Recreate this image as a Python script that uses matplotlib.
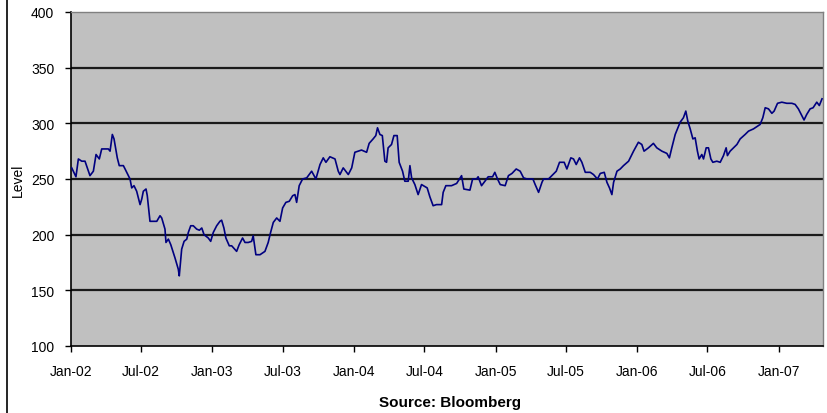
import datetime as dt
import numpy as np
import matplotlib
matplotlib.use("Agg")
import matplotlib.pyplot as plt
import matplotlib.dates as mdates
from matplotlib.lines import Line2D

plt.rcParams['font.family'] = ['Liberation Sans', 'DejaVu Sans']

# decimal years and index level
years = [
    2002.005, 2002.035, 2002.052, 2002.076, 2002.099, 2002.134, 2002.158, 2002.177,
    2002.200, 2002.217, 2002.264, 2002.276, 2002.292, 2002.304, 2002.327, 2002.341,
    2002.370, 2002.382, 2002.417, 2002.429, 2002.445, 2002.464, 2002.488, 2002.500,
    2002.511, 2002.530, 2002.539, 2002.558, 2002.606, 2002.629, 2002.641, 2002.664,
    2002.671, 2002.688, 2002.705, 2002.735, 2002.758, 2002.765, 2002.782, 2002.799,
    2002.818, 2002.829, 2002.846, 2002.864, 2002.888, 2002.907, 2002.924, 2002.940,
    2002.970, 2002.987, 2003.006, 2003.030, 2003.053, 2003.065, 2003.081, 2003.095,
    2003.119, 2003.136, 2003.171, 2003.189, 2003.213, 2003.230, 2003.253, 2003.277,
    2003.288, 2003.307, 2003.336, 2003.371, 2003.394, 2003.411, 2003.430, 2003.454,
    2003.477, 2003.496, 2003.519, 2003.543, 2003.567, 2003.583, 2003.595, 2003.613,
    2003.637, 2003.666, 2003.701, 2003.731, 2003.760, 2003.783, 2003.802, 2003.830,
    2003.866, 2003.889, 2003.901, 2003.924, 2003.960, 2003.984, 2004.007, 2004.054,
    2004.090, 2004.108, 2004.136, 2004.155, 2004.167, 2004.184, 2004.201, 2004.219,
    2004.231, 2004.242, 2004.266, 2004.283, 2004.306, 2004.320, 2004.344, 2004.360,
    2004.384, 2004.396, 2004.408, 2004.431, 2004.454, 2004.478, 2004.518, 2004.537,
    2004.560, 2004.584, 2004.620, 2004.631, 2004.650, 2004.690, 2004.726, 2004.761,
    2004.777, 2004.820, 2004.839, 2004.867, 2004.878, 2004.902, 2004.926, 2004.949,
    2004.980, 2004.996, 2005.013, 2005.032, 2005.067, 2005.090, 2005.115, 2005.145,
    2005.173, 2005.197, 2005.221, 2005.263, 2005.279, 2005.303, 2005.327, 2005.338,
    2005.373, 2005.397, 2005.428, 2005.451, 2005.484, 2005.503, 2005.531, 2005.550,
    2005.569, 2005.592, 2005.609, 2005.633, 2005.668, 2005.691, 2005.719, 2005.739,
    2005.767, 2005.786, 2005.804, 2005.821, 2005.833, 2005.857, 2005.880, 2005.903,
    2005.939, 2005.974, 2006.009, 2006.033, 2006.049, 2006.080, 2006.115, 2006.139,
    2006.175, 2006.210, 2006.228, 2006.245, 2006.269, 2006.304, 2006.327, 2006.344,
    2006.358, 2006.375, 2006.394, 2006.410, 2006.426, 2006.438, 2006.457, 2006.469,
    2006.488, 2006.504, 2006.521, 2006.535, 2006.563, 2006.587, 2006.610, 2006.629,
    2006.638, 2006.657, 2006.681, 2006.705, 2006.728, 2006.763, 2006.787, 2006.822,
    2006.846, 2006.869, 2006.888, 2006.905, 2006.928, 2006.952, 2006.968, 2006.992,
    2007.023, 2007.058, 2007.094, 2007.117, 2007.140, 2007.164, 2007.180, 2007.199,
    2007.223, 2007.244, 2007.270, 2007.288, 2007.307,
]
level = [
    260, 252, 268, 266, 266, 253, 257, 272,
    268, 277, 277, 275, 290, 286, 269, 262,
    262, 259, 250, 242, 244, 239, 227, 232,
    239, 241, 235, 212, 212, 217, 215, 205,
    193, 196, 191, 179, 169, 163, 187, 194,
    196, 202, 208, 208, 205, 204, 206, 200,
    197, 194, 202, 208, 212, 213, 206, 197,
    190, 190, 185, 191, 197, 193, 193, 194,
    199, 182, 182, 185, 193, 202, 211, 215,
    212, 224, 229, 230, 235, 236, 229, 244,
    250, 251, 257, 250, 263, 269, 265, 270,
    268, 257, 254, 260, 254, 260, 274, 276,
    274, 282, 286, 289, 296, 290, 289, 266,
    265, 278, 281, 289, 289, 265, 257, 248,
    248, 262, 251, 245, 236, 245, 242, 234,
    226, 227, 227, 238, 244, 244, 246, 253,
    241, 240, 250, 250, 252, 244, 248, 252,
    252, 256, 250, 245, 244, 253, 255, 259,
    257, 251, 250, 250, 245, 238, 247, 250,
    250, 253, 257, 265, 265, 259, 269, 268,
    263, 269, 265, 256, 256, 254, 250, 255,
    256, 247, 242, 236, 247, 257, 259, 262,
    266, 275, 283, 281, 275, 278, 282, 278,
    275, 273, 269, 278, 290, 301, 305, 311,
    302, 295, 286, 287, 275, 268, 272, 268,
    278, 278, 268, 265, 266, 265, 271, 278,
    271, 275, 278, 281, 286, 290, 293, 295,
    297, 299, 305, 314, 313, 309, 311, 318,
    319, 318, 318, 317, 313, 307, 303, 308,
    313, 314, 319, 316, 322,
]
y_ticks = [100, 150, 200, 250, 300, 350, 400]
source_text = "Source: Bloomberg"


def to_date(t):
    start = dt.datetime(int(t), 1, 1)
    return start + dt.timedelta(days=(t - int(t)) * 365.25)


dates = [to_date(t) for t in years]

fig = plt.figure(figsize=(8.27, 4.14), dpi=100)
ax = fig.add_axes([71 / 827, 1 - 347 / 414, (823 - 71) / 827, (347 - 13) / 414])
ax.set_facecolor('#c0c0c0')

# gridlines drawn as black bands like the Excel original
for v in y_ticks[1:-1]:
    ax.axhline(v, color='#1a1a1a', lw=1.6, zorder=1)

ax.plot(dates, level, color='#000080', lw=1.2, zorder=3)

ax.set_ylim(100, 400)
ax.set_xlim(dt.datetime(2002, 1, 1), to_date(2007.314))
ax.set_yticks(y_ticks)
ax.xaxis.set_major_locator(mdates.MonthLocator(bymonth=[1, 7]))
ax.xaxis.set_major_formatter(mdates.DateFormatter('%b-%y'))

for s in ['top', 'right']:
    ax.spines[s].set_color('#808080')
    ax.spines[s].set_linewidth(1.0)
for s in ['left', 'bottom']:
    ax.spines[s].set_color('black')
    ax.spines[s].set_linewidth(1.2)

ax.tick_params(axis='y', direction='out', length=4, width=1, pad=8, labelsize=10)
ax.tick_params(axis='x', direction='out', length=4, width=1, pad=9, labelsize=10)
ax.set_ylabel('Level', fontsize=10)
ax.yaxis.set_label_coords(-0.062, 0.5)

fig.text(450 / 827, 1 - 403 / 414, source_text, ha='center', va='center',
         fontsize=11, fontweight='bold')

fig.add_artist(Line2D([7 / 827, 7 / 827], [0, 1], transform=fig.transFigure,
                      color='black', lw=1.2))

fig.savefig('out.png', dpi=100)
